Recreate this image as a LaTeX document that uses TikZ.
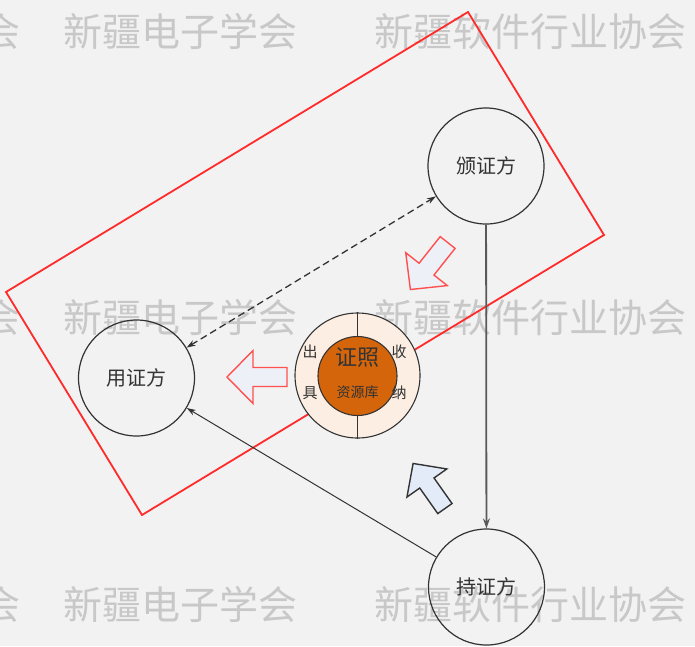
\documentclass[tikz,border=0pt]{standalone}
\usepackage{fontspec}
\newfontfamily\cjk{Noto Sans CJK SC}
\usetikzlibrary{arrows.meta}
\definecolor{bg}{HTML}{F2F2F2}
\definecolor{wm}{HTML}{C8C8C8}
\definecolor{redline}{HTML}{FF2A2A}
\definecolor{arrowred}{HTML}{FF5050}
\definecolor{fillA}{HTML}{EEF0F7}
\definecolor{fillB}{HTML}{E3EBF8}
\definecolor{ring}{HTML}{FCEEE2}
\definecolor{core}{HTML}{D4650B}
\definecolor{ink}{HTML}{333333}
\tikzset{
  wmark/.style={font=\cjk\fontsize{39}{39}\selectfont, text=wm, anchor=base west, inner sep=0pt},
  party/.style={circle, draw=ink, line width=1.2pt, minimum size=116pt, inner sep=0pt, font=\cjk\fontsize{20}{20}\selectfont, text=ink},
  ringtxt/.style={font=\cjk\fontsize{15}{15}\selectfont, text=ink, inner sep=0pt},
  conn/.style={draw=ink, line width=1pt, -{Stealth[length=9pt,width=6pt]}},
  blockarrow/.style={line width=1.4pt, line join=miter},
}
\newcommand\blockshape{(-30,0) -- (-4,26.5) -- (-4,9.5) -- (30,9.5) -- (30,-9.5) -- (-4,-9.5) -- (-4,-26.5) -- cycle}
\begin{document}
\begin{tikzpicture}[x=1pt,y=-1pt]
\fill[bg] (0,0) rectangle (695,646);
\useasboundingbox (0,0) rectangle (695,646);
% watermarks
\foreach \yy/\r in {46/a,332/b,619/c}{
  \node[wmark] (wm0\r) at (-19,\yy) {会};
  \node[wmark] (wm1\r) at (63.5,\yy) {新疆电子学会};
  \node[wmark] (wm2\r) at (374.5,\yy) {新疆软件行业协会};
}
% red frame
\draw[redline, line width=1.8pt, line join=miter] (6,292) -- (468,12) -- (604,235) -- (142,515) -- cycle;
% parties
\node[party] (issuer) at (486,166) {颁证方};
\node[party] (user) at (136.5,378) {用证方};
\node[party] (holder) at (486.5,587) {持证方};
% connectors
\draw[draw=black!65, line width=1.8pt, -{Stealth[length=10pt,width=7pt]}] (issuer) -- (holder);
\draw[conn] (holder) -- (user);
\draw[conn, line width=1.3pt, {Stealth[length=9pt,width=6pt]}-{Stealth[length=9pt,width=6pt]}, dash pattern=on 7pt off 4pt] (user) -- (issuer);
% central repository
\node[circle, draw=ink, line width=1.1pt, fill=ring, minimum size=125pt, inner sep=0pt] (outer) at (357.5,375.5) {};
\draw[ink, line width=1.1pt] (outer.north) -- (outer.south);
\node[circle, draw=ink, line width=1.1pt, fill=core, minimum size=79pt, inner sep=0pt] (core) at (357.5,376) {};
\node[font=\cjk\fontsize{22}{22}\selectfont, text=ink, inner sep=0pt] (lbl1) at (357.5,357) {证照};
\node[font=\cjk\fontsize{14}{14}\selectfont, text=ink, inner sep=0pt] (lbl2) at (357.5,392) {资源库};
\node[ringtxt] (out1) at (310,352) {出};
\node[ringtxt] (out2) at (310,393) {具};
\node[ringtxt] (in1) at (399,352) {收};
\node[ringtxt] (in2) at (399,393) {纳};
% block arrows
\begin{scope}[shift={(257,377)}]
  \draw[blockarrow, draw=arrowred, fill=fillA] \blockshape;
\end{scope}
\begin{scope}[shift={(429,266)}, rotate=51.6]
  \draw[blockarrow, draw=arrowred, fill=fillA] \blockshape;
\end{scope}
\begin{scope}[shift={(429,486)}, rotate=-54.8, scale=0.92]
  \draw[blockarrow, draw=ink, fill=fillB] \blockshape;
\end{scope}
\end{tikzpicture}
\end{document}
